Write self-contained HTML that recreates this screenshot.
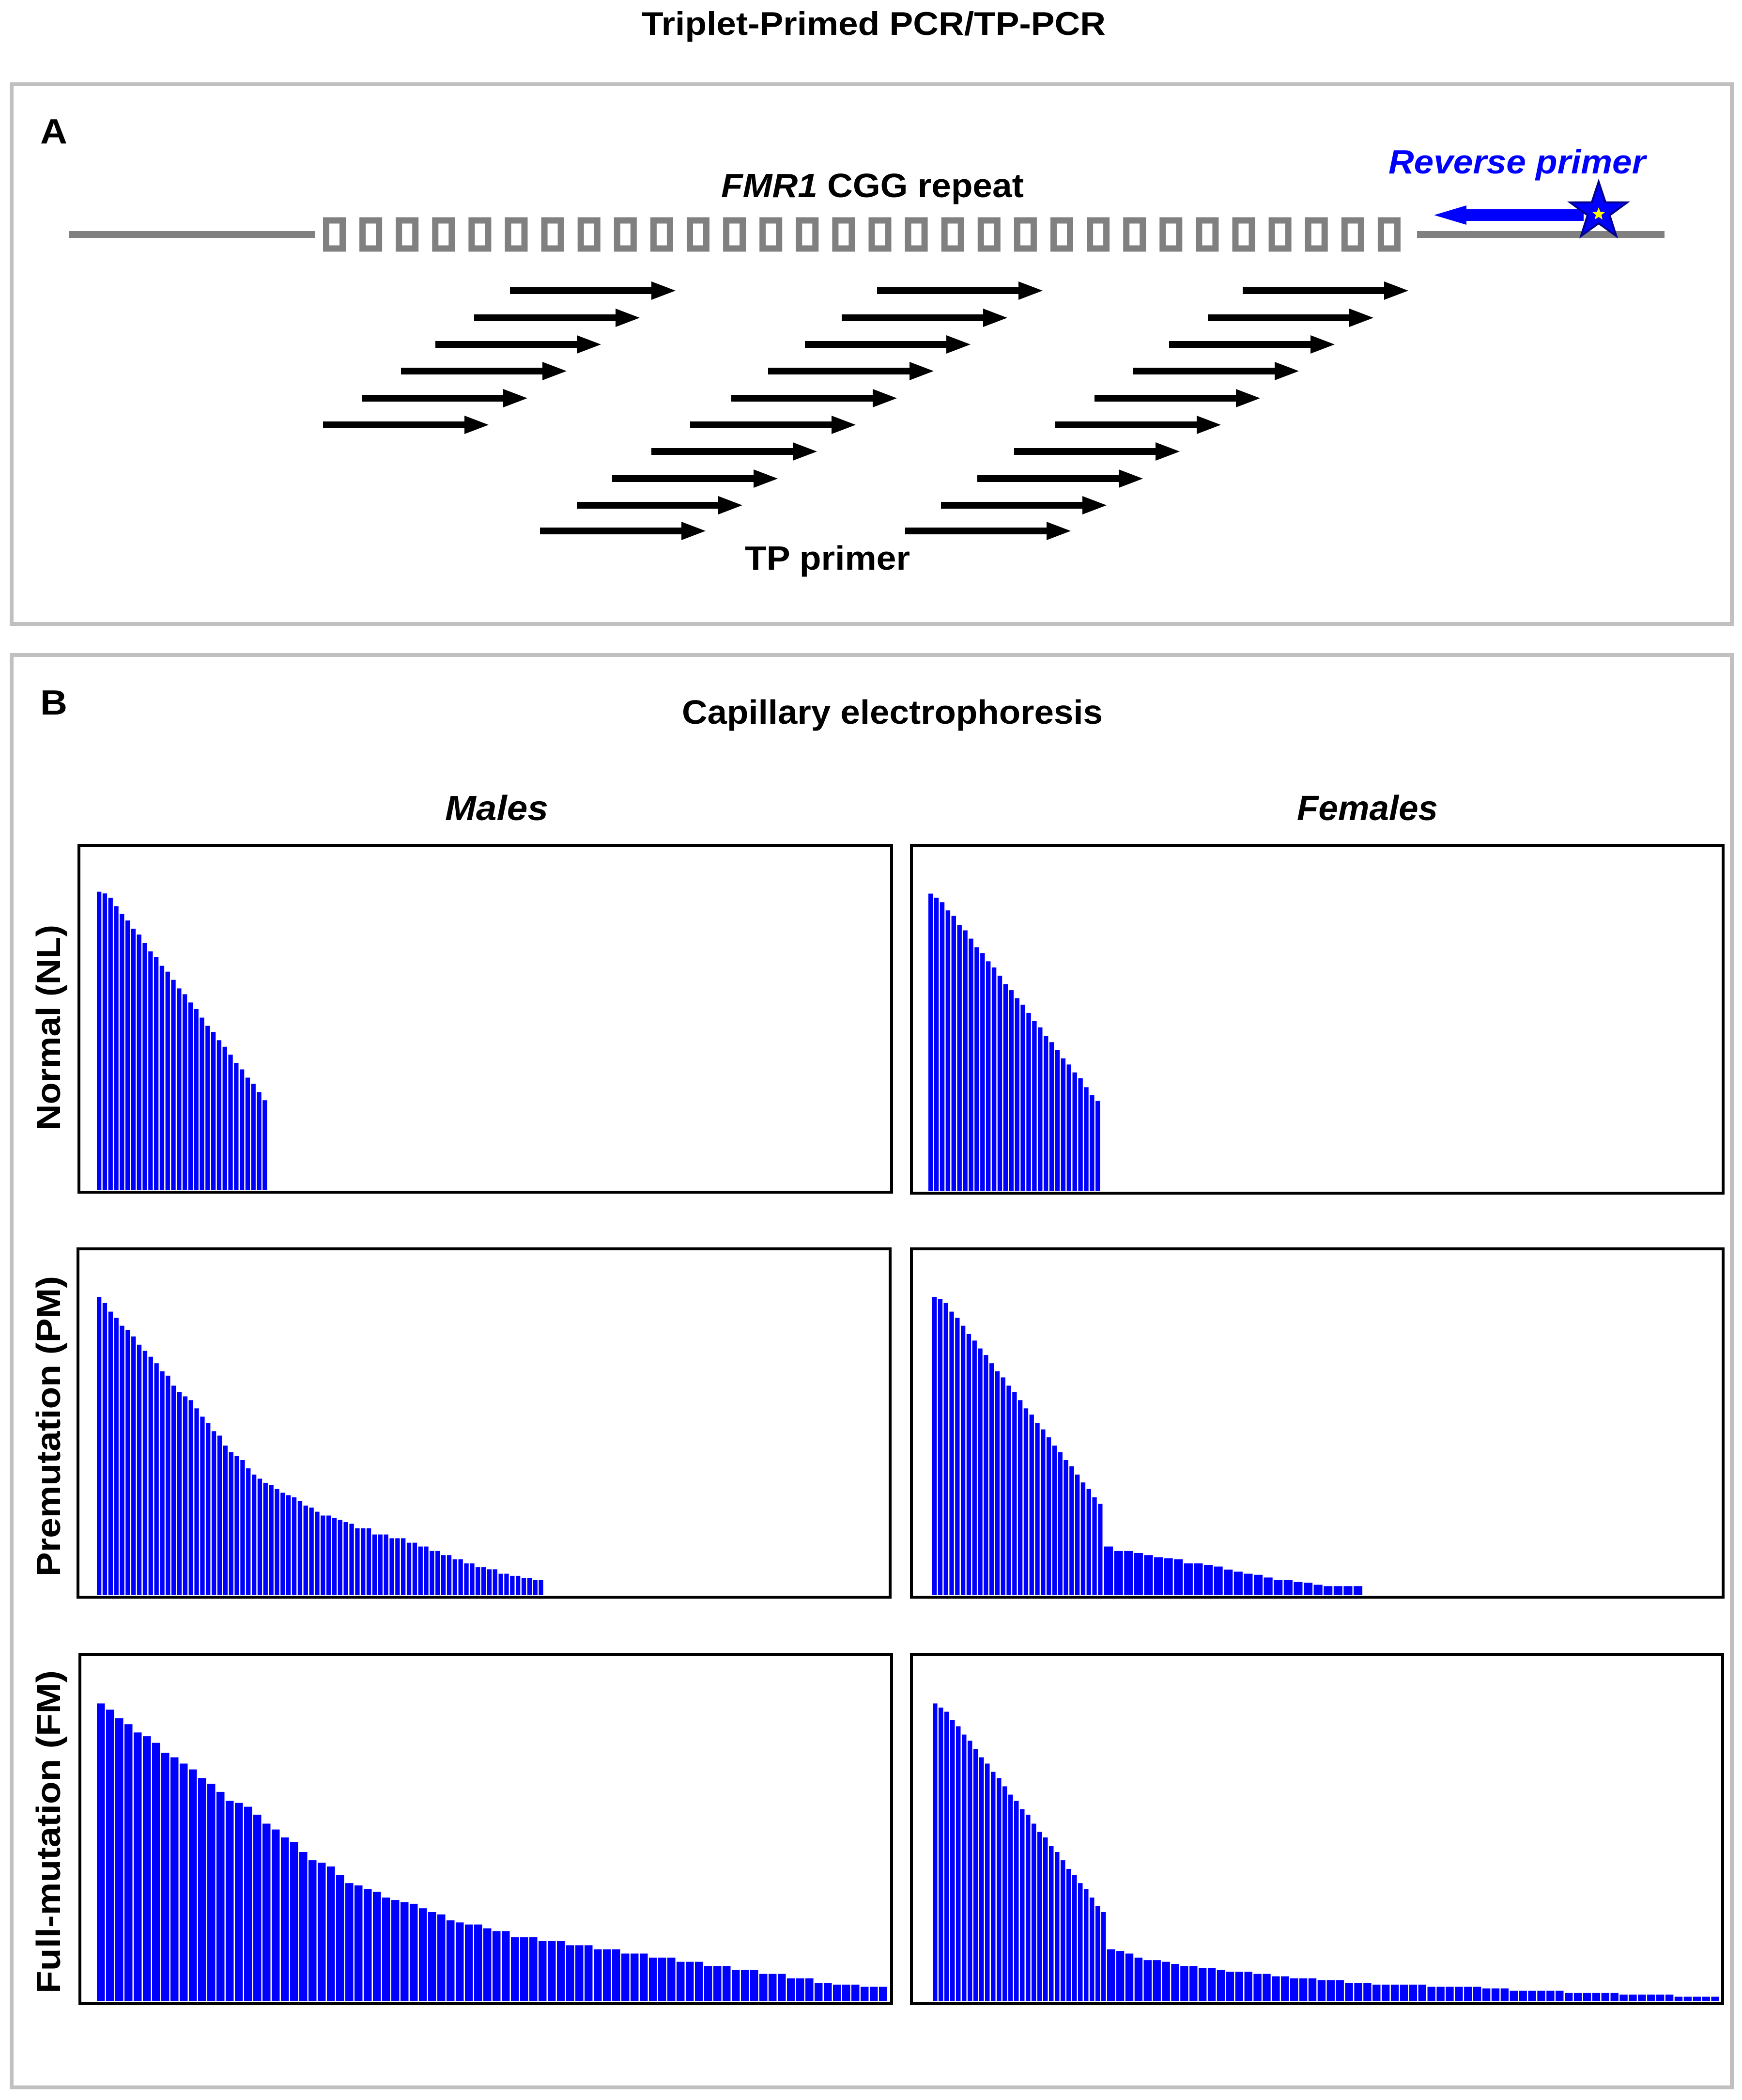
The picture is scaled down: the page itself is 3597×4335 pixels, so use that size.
<!DOCTYPE html>
<html><head><meta charset="utf-8">
<style>
html,body{margin:0;padding:0;background:#fff;}
svg{display:block;}
text{font-family:"Liberation Sans",sans-serif;font-weight:bold;}
</style></head>
<body>
<svg id="fig" width="3597" height="4335" viewBox="0 0 3597 4335" xmlns="http://www.w3.org/2000/svg">
  <rect x="0" y="0" width="3597" height="4335" fill="#fff"/>
  <text x="1325" y="72" font-size="68" textLength="958" lengthAdjust="spacingAndGlyphs">Triplet-Primed PCR/TP-PCR</text>

  <!-- Panel A -->
  <rect x="24" y="174" width="3552" height="1114" fill="none" stroke="#c0c0c0" stroke-width="8"/>
  <text x="83" y="296" font-size="72" textLength="56" lengthAdjust="spacingAndGlyphs">A</text>
  <text x="1489" y="407" font-size="70" textLength="625" lengthAdjust="spacingAndGlyphs"><tspan font-style="italic">FMR1</tspan> CGG repeat</text>
  <text x="2867" y="358" font-size="70" font-style="italic" fill="#0000ff" textLength="531" lengthAdjust="spacingAndGlyphs">Reverse primer</text>
  <g>
    <rect x="143" y="477" width="508" height="14" fill="#808080"/>
    <rect x="2926" y="477" width="511" height="14" fill="#808080"/>
  </g>
  <g id="repeats"></g>
  <g>
    <rect x="3025" y="432" width="245" height="24" fill="#0000ff"/>
    <polygon points="2961,444 3028,424 3028,464" fill="#0000ff"/>
  </g>
  <g>
    <polygon id="star" fill="#0000ff" stroke="#00008b" stroke-width="4"/>
    <polygon id="star2" fill="#ffff00"/>
  </g>
  <g id="tparrows"></g>
  <text x="1538" y="1176" font-size="70" textLength="341" lengthAdjust="spacingAndGlyphs">TP primer</text>

  <!-- Panel B -->
  <rect x="24" y="1352" width="3552" height="2957" fill="none" stroke="#c0c0c0" stroke-width="8"/>
  <text x="83" y="1475" font-size="72" textLength="56" lengthAdjust="spacingAndGlyphs">B</text>
  <text x="1408" y="1494" font-size="70" textLength="869" lengthAdjust="spacingAndGlyphs">Capillary electrophoresis</text>
  <text x="919" y="1693" font-size="72" font-style="italic" textLength="213" lengthAdjust="spacingAndGlyphs">Males</text>
  <text x="2678" y="1693" font-size="72" font-style="italic" textLength="291" lengthAdjust="spacingAndGlyphs">Females</text>
  <text transform="translate(124,2333) rotate(-90)" font-size="70" textLength="424" lengthAdjust="spacingAndGlyphs">Normal (NL)</text>
  <text transform="translate(124,3254) rotate(-90)" font-size="70" textLength="620" lengthAdjust="spacingAndGlyphs">Premutation (PM)</text>
  <text transform="translate(124,4115) rotate(-90)" font-size="70" textLength="667" lengthAdjust="spacingAndGlyphs">Full-mutation (FM)</text>
  <g id="charts"></g>
</svg>
<script>
// ---- chart data (peak heights, % of plot height) ----
const malesNL = [86.9,86.4,85.1,82.7,80.4,78.5,76.1,74.4,71.9,69.5,67.8,65.3,63.6,61.2,58.7,57.0,54.6,52.7,50.2,47.8,46.0,43.6,41.7,39.4,37.0,35.1,32.7,30.9,28.5,26.1];
const femalesNL = [86.4,85.2,83.9,81.5,79.9,77.3,75.7,73.3,70.8,69.1,66.7,64.9,62.5,60.1,58.3,56.0,54.1,51.7,49.3,47.5,45.0,43.2,40.9,38.5,36.7,34.4,32.7,30.1,27.8,26.1];
const malesPM = [86.5,84.7,82.2,80.4,78.1,76.8,75.0,72.6,70.8,69.1,67.2,64.9,63.6,60.7,58.9,57.6,56.5,54.1,51.7,49.9,47.5,46.2,43.3,41.4,40.3,39.1,36.7,34.9,33.7,32.5,31.9,30.7,29.6,28.9,28.3,27.2,25.9,25.3,24.1,23.0,23.0,22.3,21.7,21.1,20.6,19.3,19.3,19.3,17.5,17.5,17.5,16.4,16.4,16.4,15.1,15.1,14.0,14.0,12.7,12.7,11.5,11.5,10.3,10.3,9.1,9.1,8.0,8.0,7.4,7.4,6.1,6.1,5.5,5.5,4.9,4.9,4.3,4.3];
const femalesPMSteep = [86.5,85.8,84.7,82.2,80.4,78.1,75.7,73.8,71.5,69.6,67.2,64.9,63.1,60.7,58.9,56.5,54.1,52.3,49.9,48.0,45.7,43.3,41.4,39.1,37.3,34.9,32.6,30.7,28.3,26.4];
const femalesPMTail = [14.0,12.7,12.7,12.1,11.5,10.9,10.6,10.3,9.1,9.1,8.6,8.2,7.3,6.7,6.1,5.8,5.0,4.3,4.3,3.7,3.5,2.9,2.5,2.5,2.5,2.5];
const malesFM = [86.2,84.4,81.9,80.2,77.8,76.7,74.8,71.9,70.6,68.8,67.1,64.6,62.9,60.6,58.0,57.4,56.3,54.0,51.4,49.7,47.4,46.1,43.2,40.8,40.1,39.0,36.6,34.2,33.5,32.4,31.7,30.0,29.3,28.7,28.2,26.9,25.8,25.1,23.4,22.8,22.2,22.2,21.1,20.3,20.3,18.5,18.5,18.5,17.4,17.4,17.4,16.2,16.2,16.2,15.0,15.0,15.0,13.8,13.8,13.8,12.6,12.6,12.6,11.4,11.4,11.4,10.2,10.2,10.2,9.0,9.0,9.0,7.9,7.9,7.9,6.6,6.6,6.6,5.3,5.3,4.8,4.8,4.8,4.2,4.2,4.2];
const femalesFMSteep = [86.2,85.0,83.8,81.4,79.6,77.2,75.4,73.0,70.6,68.8,66.4,64.6,62.2,59.8,58.0,55.6,54.0,51.4,49.0,47.4,44.9,43.2,40.8,38.3,36.6,34.2,32.4,30.0,27.6,25.8];
const femalesFMTail = [15.0,14.5,13.8,12.6,11.9,11.9,11.4,10.8,10.2,10.2,9.6,9.6,9.0,8.5,8.5,8.5,7.9,7.9,7.2,7.2,6.6,6.6,6.6,6.1,6.1,6.1,5.3,5.3,5.3,4.8,4.8,4.8,4.8,4.8,4.8,4.2,4.2,4.2,4.2,4.2,4.2,3.7,3.7,3.7,3.0,3.0,3.0,3.0,3.0,3.0,2.4,2.4,2.4,2.4,2.4,2.4,1.9,1.9,1.9,1.9,1.9,1.9,1.3,1.3,1.3,1.3,1.3];
const rowNames = ['normal','premutation','full-mutation'];
const colNames = ['males','females'];

const NS = 'http://www.w3.org/2000/svg';
function mk(tag, attrs, parent){ const e=document.createElementNS(NS,tag); for(const k in attrs) e.setAttribute(k,attrs[k]); parent.appendChild(e); return e; }

// ---- Panel A diagram ----
const rep = document.getElementById('repeats');
for(let i=0;i<30;i++){
  const r = mk('rect',{x:667+i*75.1+6.5,y:455,width:34,height:58,fill:'none',stroke:'#808080','stroke-width':13},rep);
  
  
}
function starPts(cx,cy,R,r){ let p=[]; for(let i=0;i<10;i++){ const a=-Math.PI/2+i*Math.PI/5; const rad=i%2?r:R; p.push((cx+rad*Math.cos(a)).toFixed(1)+','+(cy+rad*Math.sin(a)).toFixed(1)); } return p.join(' '); }
document.getElementById('star').setAttribute('points', starPts(3301,437,62,24));
document.getElementById('star2').setAttribute('points', starPts(3301,442,14,6));
const rowsY = [600,656,711,766,822,877,932,988,1043,1096];
const colStarts = [[1053,979,899,828,747,667],[1811,1738,1662,1586,1510,1425,1345,1264,1191,1115],[2566,2494,2414,2340,2260,2179,2094,2018,1943,1869]];
const ta = document.getElementById('tparrows');
colStarts.forEach(col=>col.forEach((x,i)=>{
  const y=rowsY[i], L=342, hl=50, hh=19, sh=7;
  const p = mk('polygon',{points:`${x},${y-sh} ${x+L-hl},${y-sh} ${x+L-hl},${y-hh} ${x+L},${y} ${x+L-hl},${y+hh} ${x+L-hl},${y+sh} ${x},${y+sh}`,fill:'#000'},ta);
  
  
}));

// ---- Panel B charts ----
const boxes = [
  [{x:163,y:1745,w:1678,h:716},{x:1882,y:1745,w:1676,h:718}],
  [{x:161,y:2578,w:1677,h:719},{x:1882,y:2578,w:1676,h:719}],
  [{x:165,y:3415,w:1676,h:721},{x:1882,y:3415,w:1675,h:721}]
];
// segments: [data, startX, pitch]
const segments = [
  [[[malesNL,200,11.8]],[[femalesNL,1917,11.9]]],
  [[[malesPM,200,11.85]],[[femalesPMSteep,1925,11.8],[femalesPMTail,2280,20.6]]],
  [[[malesFM,200,19.0]],[[femalesFMSteep,1926,12.0],[femalesFMTail,2286,18.9]]]
];
const charts = document.getElementById('charts');
for(let r=0;r<3;r++) for(let c=0;c<2;c++){
  const b = boxes[r][c];
  const g = mk('g',{},charts);
  
  
  const base = b.y + b.h - 5;
  const plotH = b.h - 8;
  const yScale = v => base - v/100*plotH;
  segments[r][c].forEach(([data,x0,pitch])=>{
    data.forEach((v,i)=>{
      const y = yScale(v);
      const bar = mk('rect',{x:(x0+i*pitch).toFixed(1),y:y.toFixed(1),width:(pitch-2.5).toFixed(1),height:(base-y).toFixed(1),fill:'#0000ff'},g);
      
      
    });
  });
  const fr = mk('rect',{x:b.x,y:b.y,width:b.w,height:b.h,fill:'none',stroke:'#000','stroke-width':6},g);
  
  
}
</script>
</body></html>
